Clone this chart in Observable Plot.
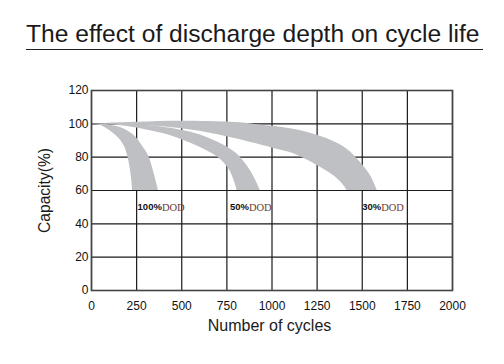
<!DOCTYPE html>
<html>
<head>
<meta charset="utf-8">
<script src="https://cdn.jsdelivr.net/npm/d3@7"></script>
<script src="https://cdn.jsdelivr.net/npm/@observablehq/plot@0.6"></script>
<style>
  html, body { margin: 0; padding: 0; background: #fff; }
  #wrap { position: relative; width: 504px; height: 364px; overflow: hidden; }
  #title { position: absolute; left: 26px; top: 22px; font-family: "Liberation Sans", Arial, sans-serif;
           font-size: 24.6px; color: #1a1a1a; white-space: nowrap; line-height: 1; }
  #rule { position: absolute; left: 26px; top: 48.5px; width: 457px; height: 1.6px; background: #222; }
  #chart { position: absolute; left: 0; top: 0; }
</style>
</head>
<body>
<div id="wrap">
  <div id="title">The effect of discharge depth on cycle life</div>
  <div id="rule"></div>
  <div id="chart"></div>
</div>
<script>
// Axis ticks
const cycleTicks = [0, 250, 500, 750, 1000, 1250, 1500, 1750, 2000];
const capacityTicks = [0, 20, 40, 60, 80, 100, 120];

// Band edges [cycles, capacity %] — inner (lower/left) and outer (upper/right) edges
const dod100Inner = [[0,100],[60,98.6],[113,95],[150,91.5],[180,87],[200,81],[213,74],[222,67],[228,60]];
const dod100Outer = [[0,100],[100,99.2],[160,97.8],[214,94.8],[250,91.5],[280,87],[316,80.8],[345,71],[371,60]];

const dod50Inner = [[0,100],[150,99],[250,97.5],[400,94],[500,90.5],[600,86],[700,80],[760,73],[790,66],[807,60]];
const dod50Outer = [[0,100],[150,100],[250,99.5],[400,98],[500,96.2],[600,93.5],[700,89],[800,82.5],[880,72],[936,60]];

const dod30Inner = [[0,100],[200,99.3],[400,98.2],[600,95.5],[800,91],[1000,85.5],[1120,82],[1250,75],[1340,69],[1390,64],[1416,60]];
const dod30Outer = [[0,100],[250,101],[500,101.6],[800,100.8],[940,99.2],[1120,96.8],[1300,91.3],[1416,84.8],[1490,76.8],[1546,68.8],[1583,60]];

// Labels
const labelNames = ["100%", "50%", "30%"];
const labelSuffix = ["DOD", "DOD", "DOD"];
const labelSplitX = [390, 872, 1605];
const labelY = [50, 50, 50];

const bandList = [
  ["100%", dod100Inner, dod100Outer],
  ["50%", dod50Inner, dod50Outer],
  ["30%", dod30Inner, dod30Outer]
];
const bandRows = bandList.flatMap(([band, inner, outer]) =>
  inner.map((p, i) => ({band, x1: p[0], y1: p[1], x2: outer[i][0], y2: outer[i][1]})));

const labels = labelNames.map((n, i) => ({n, s: labelSuffix[i], x: labelSplitX[i], y: labelY[i]}));

const chart = Plot.plot({
  width: 504,
  height: 364,
  marginLeft: 91,
  marginRight: 52,
  marginTop: 90,
  marginBottom: 74,
  style: {fontFamily: "'Liberation Sans', Arial, sans-serif", fontSize: "12px", color: "#111", background: "transparent", overflow: "visible"},
  x: {domain: [0, 2000], ticks: cycleTicks, tickFormat: d => String(d), tickSize: 0, tickPadding: 11, label: null},
  y: {domain: [0, 120], ticks: capacityTicks, tickFormat: d => String(d), tickSize: 0, tickPadding: 3, label: null},
  marks: [
    Plot.ruleX(cycleTicks, {stroke: "#1a1a1a", strokeWidth: 1.2}),
    Plot.ruleY(capacityTicks, {stroke: "#1a1a1a", strokeWidth: 1.2}),
    Plot.area(bandRows, {x1: "x1", y1: "y1", x2: "x2", y2: "y2", z: "band", fill: "#bfc0c4", curve: "catmull-rom"}),
    Plot.frame({stroke: "#444", strokeWidth: 1.6}),
    Plot.text(labels, {x: "x", y: "y", text: "n", textAnchor: "end", fontWeight: "bold", fontSize: 9.5, fill: "#111"}),
    Plot.text(labels, {x: "x", y: "y", text: "s", textAnchor: "start", fontFamily: "'Liberation Serif', 'Times New Roman', serif", fontSize: 10.5, fill: "#6b3a30"}),
    Plot.text(["Capacity(%)"], {frameAnchor: "left", textAnchor: "middle", lineAnchor: "middle", dx: -47, rotate: -90, fontSize: 15.6, fill: "#1a1a1a"}),
    Plot.text(["Number of cycles"], {frameAnchor: "bottom", textAnchor: "middle", lineAnchor: "middle", dy: 35, dx: -2.5, fontSize: 16, fill: "#1a1a1a", style: "letter-spacing:0.8px"})
  ]
});
document.getElementById("chart").appendChild(chart);
</script>
</body>
</html>
